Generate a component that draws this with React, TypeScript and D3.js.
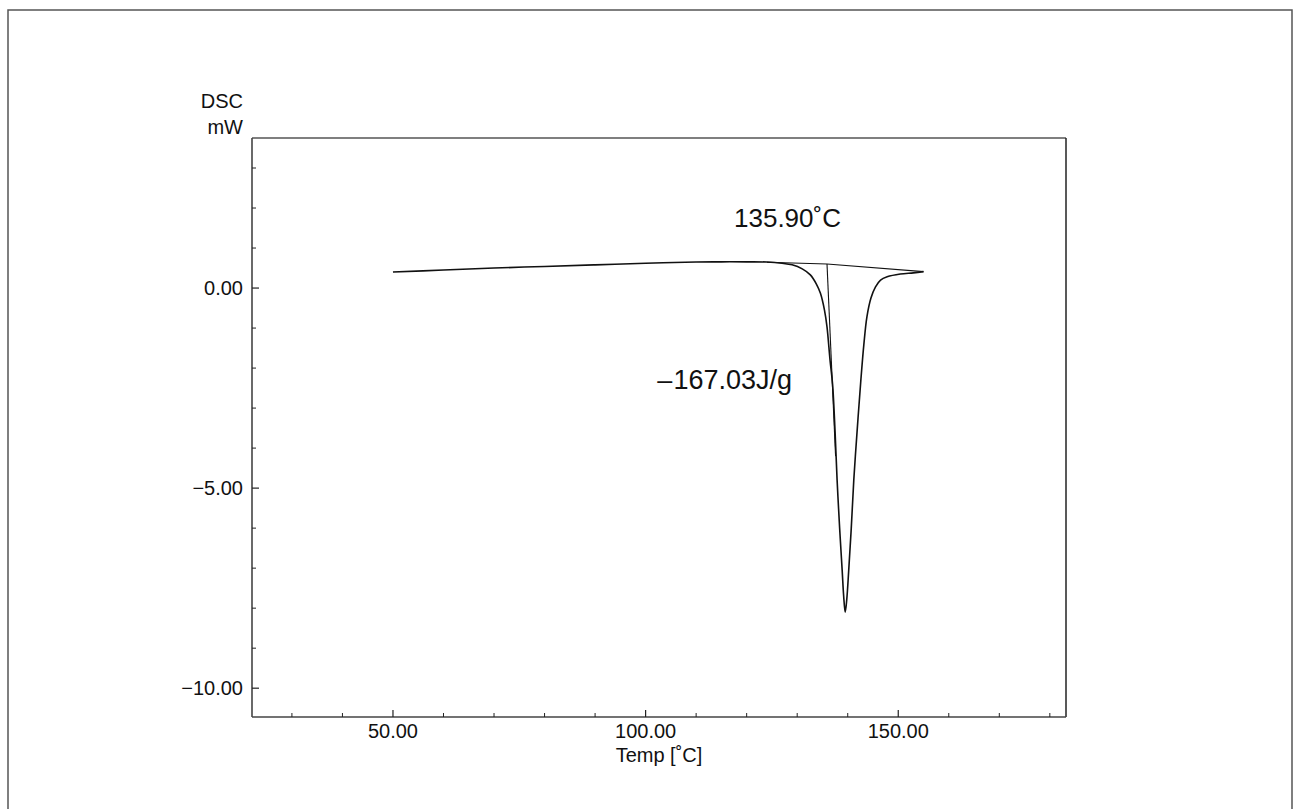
import React from "react";
import * as d3 from "d3";

const temps = [50, 60, 70, 80, 90, 100, 110, 115, 120, 124, 127, 129, 131, 132.6, 133.8, 134.6, 135.4, 135.9, 136.5, 137.0, 137.5, 137.9, 138.4, 138.9, 139.2, 139.5, 139.8, 140.2, 140.7, 141.2, 141.9, 142.6, 143.2, 143.8, 144.6, 145.5, 146.5, 147.8, 150.4, 153, 155];
const dsc = [0.40, 0.45, 0.50, 0.54, 0.58, 0.62, 0.65, 0.655, 0.655, 0.65, 0.62, 0.58, 0.48, 0.33, 0.10, -0.13, -0.55, -0.97, -1.8, -2.4, -3.6, -4.8, -6.0, -7.05, -7.7, -8.1, -7.8, -7.05, -6.0, -4.8, -3.5, -2.3, -1.4, -0.72, -0.25, 0.03, 0.2, 0.28, 0.35, 0.38, 0.41];

const baselineT = [124, 135.9, 155];
const baselineV = [0.645, 0.6, 0.41];
const tangentT = [135.9, 137.6];
const tangentV = [0.6, -4.2];

const xMajor = [50, 100, 150];
const xMinor = [30, 40, 60, 70, 80, 90, 110, 120, 130, 140, 160, 170, 180];
const yMajor = [0, -5, -10];
const yMinor = [3, 2, 1, -1, -2, -3, -4, -6, -7, -8, -9];

const onsetLabel = "135.90˚C";
const heatDash = "–";
const heatValue = "167.03J/g";

const W = 1296, H = 809;
const L = 252, T = 138, R = 1066, B = 717;
const FONT = "'Liberation Sans', Arial, Helvetica, sans-serif";

export default function App() {
  const x = d3.scaleLinear().domain([22.1, 183.2]).range([L, R]);
  const y = d3.scaleLinear().domain([3.75, -10.72]).range([T, B]);
  const line = d3.line<[number, number]>().x(d => x(d[0])).y(d => y(d[1])).curve(d3.curveCatmullRom.alpha(0.5));
  const straight = d3.line<[number, number]>().x(d => x(d[0])).y(d => y(d[1]));
  const curvePts = temps.map((t, i) => [t, dsc[i]] as [number, number]);
  const basePts = baselineT.map((t, i) => [t, baselineV[i]] as [number, number]);
  const tanPts = tangentT.map((t, i) => [t, tangentV[i]] as [number, number]);
  const fmt = d3.format(".2f");
  const fmtY = (v: number) => (v < 0 ? "\u2212" + fmt(-v) : fmt(v));

  return (
    <svg width={W} height={H} style={{ position: "absolute", left: 0, top: 0, background: "#fff" }} fontFamily={FONT}>
      <rect x={8} y={10} width={1284} height={H + 20} fill="none" stroke="#555" strokeWidth={1.5} />
      <line x1={L} y1={T} x2={R} y2={T} stroke="#000" strokeWidth={1.2} />
      <line x1={R} y1={T} x2={R} y2={B} stroke="#222" strokeWidth={1.5} />
      <line x1={L} y1={T} x2={L} y2={B} stroke="#444" strokeWidth={1.6} />
      <line x1={L} y1={B} x2={R} y2={B} stroke="#444" strokeWidth={1.6} />
      {xMajor.map(v => (
        <g key={"xM" + v}>
          <line x1={x(v)} x2={x(v)} y1={B} y2={B - 7} stroke="#222" strokeWidth={1.2} />
          <text x={x(v)} y={B + 21} fontSize={20} textAnchor="middle" fill="#111">{fmt(v)}</text>
        </g>
      ))}
      {xMinor.map(v => (
        <line key={"xm" + v} x1={x(v)} x2={x(v)} y1={B} y2={B - 4} stroke="#222" strokeWidth={1} />
      ))}
      {yMajor.map(v => (
        <g key={"yM" + v}>
          <line x1={L} x2={L + 7} y1={y(v)} y2={y(v)} stroke="#222" strokeWidth={1.2} />
          <text x={243} y={y(v) + 7} fontSize={20} textAnchor="end" fill="#111">{fmtY(v)}</text>
        </g>
      ))}
      {yMinor.map(v => (
        <line key={"ym" + v} x1={L} x2={L + 4} y1={y(v)} y2={y(v)} stroke="#222" strokeWidth={1} />
      ))}
      <text x={243} y={108} fontSize={20} textAnchor="end" fill="#111">DSC</text>
      <text x={243} y={134} fontSize={20} textAnchor="end" fill="#111">mW</text>
      <text x={659} y={762} fontSize={20} textAnchor="middle" fill="#111">Temp [˚C]</text>

      <path d={straight(basePts) || ""} fill="none" stroke="#111" strokeWidth={1.1} />
      <path d={straight(tanPts) || ""} fill="none" stroke="#111" strokeWidth={1.1} />
      <path d={line(curvePts) || ""} fill="none" stroke="#111" strokeWidth={1.6} />

      <text x={x(135.9) - 93} y={y(0.6) - 37} fontSize={26} fill="#111">{onsetLabel}</text>
      <text x={792} y={389} fontSize={27} textAnchor="end" fill="#111">
        <tspan>{heatDash}</tspan><tspan dx={1}>{heatValue}</tspan>
      </text>
    </svg>
  );
}
